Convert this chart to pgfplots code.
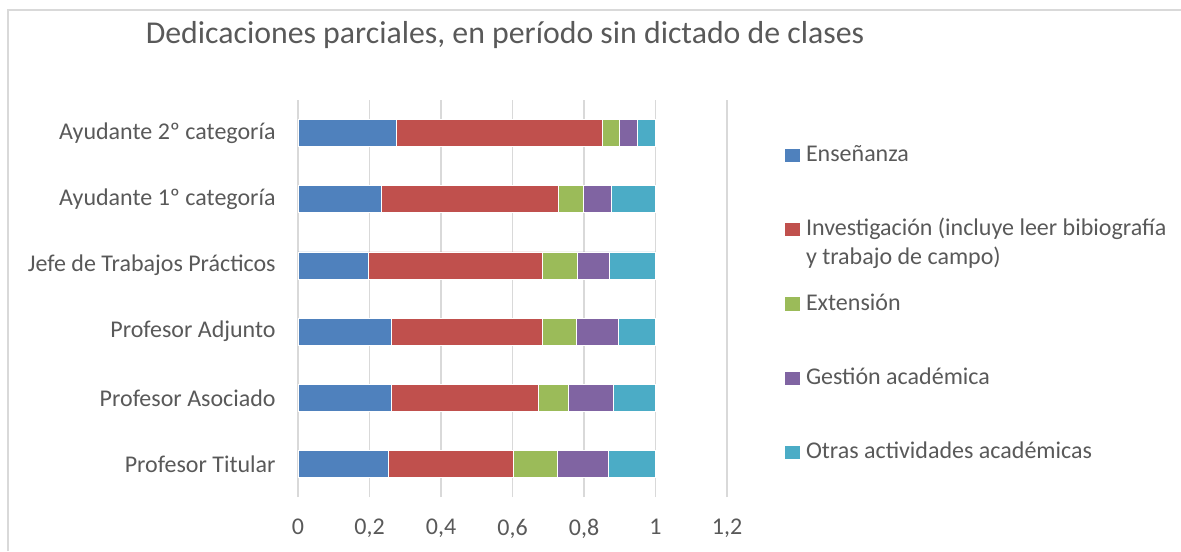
\documentclass[border=0pt]{standalone}
\usepackage{fontspec}
\setmainfont{Carlito}
\usepackage{pgfplots}
\pgfplotsset{compat=1.18}

\definecolor{cBlue}{HTML}{4F81BD}
\definecolor{cRed}{HTML}{C0504D}
\definecolor{cGreen}{HTML}{9BBB59}
\definecolor{cPurple}{HTML}{8064A2}
\definecolor{cCyan}{HTML}{4BACC6}
\definecolor{txt}{HTML}{595959}
\definecolor{grd}{HTML}{D9D9D9}

% legend square, baseline of the text sits at y=-4.25pt
\newcommand{\sq}[1]{\fill[#1] (0pt,-4.25pt) rectangle (7pt,1.95pt);}

\begin{document}
\begin{tikzpicture}
\useasboundingbox (0pt,0pt) rectangle (590.5pt,-275.5pt);
\draw[grd, line width=0.8pt] (4pt,-275.5pt) -- (4pt,-5pt) -- (590.5pt,-5pt);
\begin{axis}[
    at={(149pt,-248.5pt)}, anchor=south west,
    scale only axis, width=214.5pt, height=198.5pt,
    xbar stacked, bar width=13.5pt,
    xmin=0, xmax=1.2, ymin=-0.5, ymax=5.5,
    xtick={0,0.2,0.4,0.6,0.8,1,1.2},
    ytick={0,1,2,3,4,5},
    yticklabels={Profesor Titular, Profesor Asociado, Profesor Adjunto,
        Jefe de Trabajos Prácticos, Ayudante 1º categoría, Ayudante 2º categoría},
    xmajorgrids, grid style={grd, line width=0.9pt},
    axis line style={draw=none},
    major tick length=0pt,
    tick label style={font=\fontsize{12}{14.5}\selectfont, text=txt, inner sep=0pt},
    xticklabel style={yshift=-11pt, /pgf/number format/use comma,
        /pgf/number format/assume math mode=true},
    yticklabel style={xshift=-11pt},
    title={Dedicaciones parciales, en período sin dictado de clases},
    title style={at={(0.4825,1)}, anchor=base, yshift=22.5pt, inner sep=0pt,
        font=\fontsize{15.9}{18}\selectfont, text=txt},
    legend cell align=left,
    legend style={at={(1.1352,0.889)}, anchor=north west, draw=none, fill=none,
        inner sep=0pt, row sep=28.5pt, column sep=3pt,
        nodes={inner sep=0pt, text height=8.5pt, text depth=0pt},
        font=\fontsize{12}{14.5}\selectfont, text=txt},
]
\addplot[fill=cBlue, draw=white, line width=0.3pt, legend image code/.code={\sq{cBlue}}]
    coordinates {(0.252,0) (0.261,1) (0.261,2) (0.197,3) (0.233,4) (0.275,5)};
\addlegendentry{Enseñanza}
\addplot[fill=cRed, draw=white, line width=0.3pt, legend image code/.code={\sq{cRed}}]
    coordinates {(0.351,0) (0.412,1) (0.421,2) (0.487,3) (0.496,4) (0.575,5)};
\addlegendentry{\begin{tabular}[t]{@{}l@{}}Investigación (incluye leer bibiografía\\y trabajo de campo)\end{tabular}}
\addplot[fill=cGreen, draw=white, line width=0.3pt, legend image code/.code={\sq{cGreen}}]
    coordinates {(0.123,0) (0.083,1) (0.097,2) (0.096,3) (0.070,4) (0.050,5)};
\addlegendentry{Extensión}
\addplot[fill=cPurple, draw=white, line width=0.3pt, legend image code/.code={\sq{cPurple}}]
    coordinates {(0.141,0) (0.127,1) (0.116,2) (0.092,3) (0.076,4) (0.050,5)};
\addlegendentry{Gestión académica}
\addplot[fill=cCyan, draw=white, line width=0.3pt, legend image code/.code={\sq{cCyan}}]
    coordinates {(0.133,0) (0.117,1) (0.105,2) (0.128,3) (0.125,4) (0.050,5)};
\addlegendentry{Otras actividades académicas}
\end{axis}
\end{tikzpicture}
\end{document}
